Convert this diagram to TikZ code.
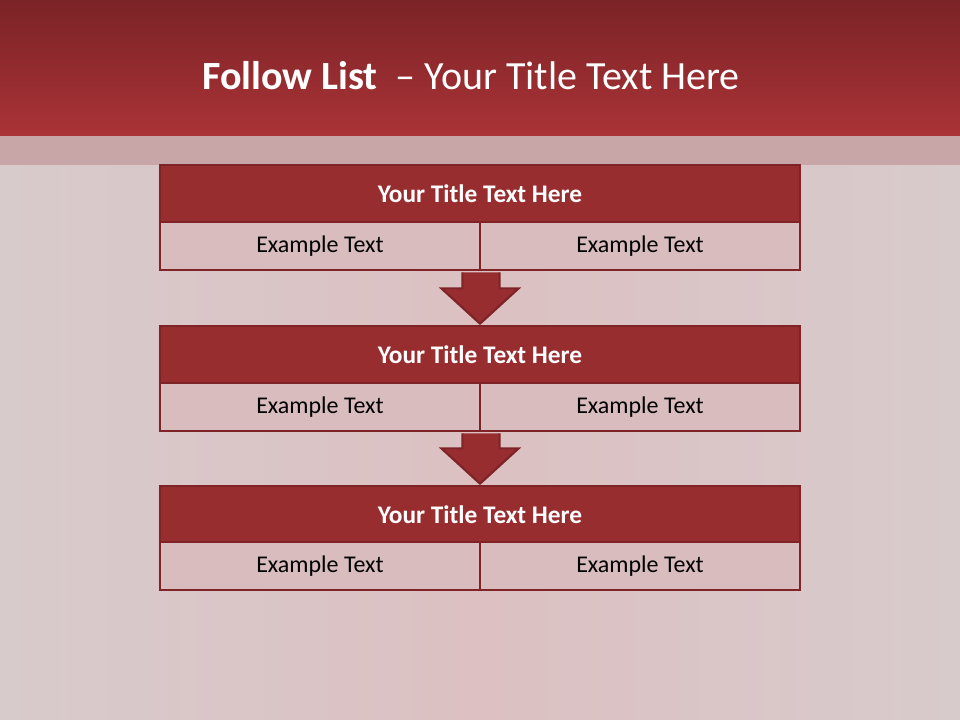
\documentclass[tikz,border=0pt]{standalone}
\usepackage{fontspec}
\setmainfont{Carlito}
\usetikzlibrary{calc}
\definecolor{hdtop}{HTML}{7A2326}
\definecolor{hdbot}{HTML}{AA3337}
\definecolor{bgc}{HTML}{D8CBCC}
\definecolor{bgpink}{HTML}{DCC0C2}
\definecolor{bandc}{HTML}{C8A6A8}
\definecolor{titlefill}{HTML}{982D30}
\definecolor{edgec}{HTML}{7E2326}
\definecolor{cellfill}{HTML}{D9BCBE}
\tikzset{
  titlebox/.style={draw=edgec, line width=2pt, fill=titlefill, minimum width=480pt, minimum height=42.75pt, inner sep=0pt, text=white, font=\fontsize{19}{22}\selectfont\bfseries},
  cellbox/.style={draw=edgec, line width=2pt, fill=cellfill, minimum width=240pt, minimum height=36pt, inner sep=0pt, text=black, font=\fontsize{18}{21}\selectfont},
  downarrow/.style={draw=edgec, line width=1.6pt, fill=titlefill, line join=miter}
}
\begin{document}
\begin{tikzpicture}[x=0.75pt, y=-0.75pt]
\useasboundingbox (0,0) rectangle (960,720);
\shade[left color=bgc, right color=bgc, middle color=bgpink] (0,0) rectangle (960,720);
\fill[bandc] (0,136) rectangle (960,165);
\shade[top color=hdtop, bottom color=hdbot] (0,0) rectangle (960,136);
\node[text=white, font=\fontsize{30}{36}\selectfont] (head) at (471,76) {\textbf{Follow List}\ \ – Your Title Text Here};
% box 1
\node[titlebox] (t1) at (480,193.5) {Your Title Text Here};
\node[cellbox] (a1) at (320,246) {Example Text};
\node[cellbox] (b1) at (640,246) {Example Text};
% box 2
\node[titlebox] (t2) at (480,354.5) {Your Title Text Here};
\node[cellbox] (a2) at (320,407) {Example Text};
\node[cellbox] (b2) at (640,407) {Example Text};
% box 3
\node[titlebox] (t3) at (480,514.5) {Your Title Text Here};
\node[cellbox] (a3) at (320,566) {Example Text};
\node[cellbox] (b3) at (640,566) {Example Text};
% arrows
\draw[downarrow] ($(a1.south east)+(-19,1)$) -- ($(a1.south east)+(-19,17)$) -- ($(a1.south east)+(-40,17)$) -- ($(t2.north)+(0,-1)$) -- ($(b1.south west)+(40,17)$) -- ($(b1.south west)+(21,17)$) -- ($(b1.south west)+(21,1)$);
\draw[downarrow] ($(a2.south east)+(-19,1)$) -- ($(a2.south east)+(-19,16)$) -- ($(a2.south east)+(-40,16)$) -- ($(t3.north)+(0,-1)$) -- ($(b2.south west)+(40,16)$) -- ($(b2.south west)+(21,16)$) -- ($(b2.south west)+(21,1)$);
\end{tikzpicture}
\end{document}
